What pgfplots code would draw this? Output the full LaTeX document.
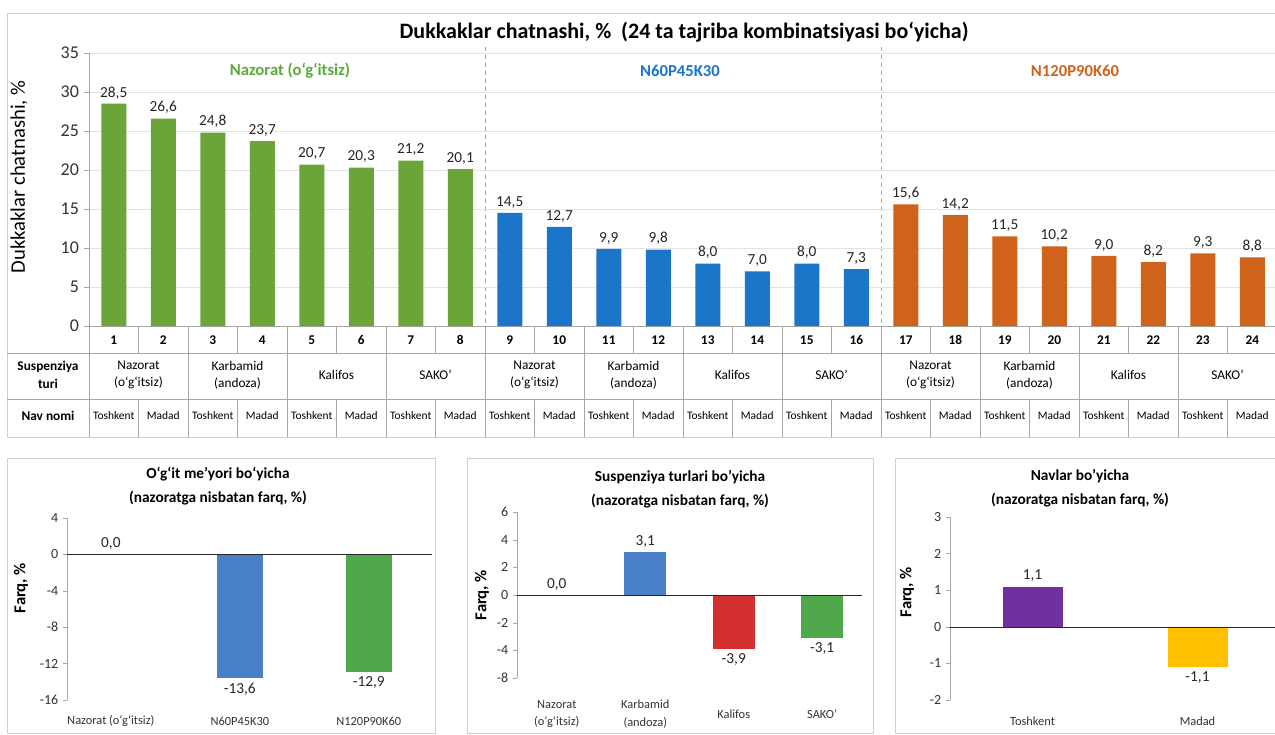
\documentclass[border=0pt]{standalone}
\usepackage{pgfplots}
\pgfplotsset{compat=1.18}
\usepackage{fontspec}
\setmainfont{Carlito}
\definecolor{tgreen}{HTML}{6BA53A}
\definecolor{tblue}{HTML}{1B75C8}
\definecolor{torange}{HTML}{D0631A}
\definecolor{lgreen}{HTML}{5BAA3C}
\definecolor{bblue}{HTML}{4A80C8}
\definecolor{bgreen}{HTML}{4FA84A}
\definecolor{bred}{HTML}{D42F2F}
\definecolor{bpurple}{HTML}{7030A0}
\definecolor{bamber}{HTML}{FFC000}
\definecolor{gridc}{HTML}{E3E3E3}
\definecolor{linec}{HTML}{A6A6A6}
\definecolor{framec}{HTML}{CFCFCF}
\pgfplotsset{/pgf/number format/assume math mode=true}
\newcommand{\fs}[1]{\fontsize{#1}{#1}\selectfont}
\pgfplotsset{
 vlabels/.style={nodes near coords={\pgfmathprintnumber[fixed,fixed zerofill,precision=1,use comma]{\pgfplotspointmeta}}},
 bottompanel/.style={
  axis x line*=bottom, axis y line*=left,
  axis line style={-, draw=linec},
  x axis line style={draw=none},
  xtick style={draw=none},
  ytick style={draw=linec},
  tick align=outside, major tick length=3pt,
  yticklabel style={font=\fs{10.5}, text=black!80},
  xticklabel style={font=\fontsize{9.3}{13}\selectfont, text=black!80, align=center, anchor=center},
  every node near coord/.append style={font=\fs{11.5}, text=black!85},
  vlabels, clip=false,
 },
}
\begin{document}
\begin{tikzpicture}
\useasboundingbox (0,0) rectangle (956.25pt,-551.25pt);
\fill[white] (0,0) rectangle (956.25pt,-551.25pt);
\begin{scope}[x=0.75pt,y=-0.75pt]
% top frame
\draw[framec] (7,13) rectangle (1290,437);
\node[font=\bfseries\fs{16.5}] at (684,32) {Dukkaklar chatnashi, \%\ \ (24 ta tajriba kombinatsiyasi bo‘yicha)};
\node[font=\fs{15.5}, rotate=90] at (19,177) {Dukkaklar chatnashi, \%};
\node[font=\bfseries\fs{12.5}, text=lgreen] at (290,71) {Nazorat (o‘g‘itsiz)};
\node[font=\bfseries\fs{12.5}, text=tblue] at (680,71) {N60P45K30};
\node[font=\bfseries\fs{12.5}, text=torange] at (1075,71) {N120P90K60};
\draw[linec, dashed] (485,47) -- (485,326);
\draw[linec, dashed] (881,47) -- (881,326);
% table
\draw[linec] (7,353) -- (1290,353);
\draw[linec] (7,399) -- (1290,399);
\foreach \k in {0,...,24} {
  \draw[linec] ({89+49.5*\k},326) -- ({89+49.5*\k},353);
  \draw[linec] ({89+49.5*\k},399) -- ({89+49.5*\k},437);
}
\foreach \k in {0,...,12} \draw[linec] ({89+99*\k},353) -- ({89+99*\k},399);
\foreach \k in {1,...,24} \node[font=\bfseries\fs{10}] at ({89+49.5*\k-24.75},340) {\k};
\foreach \g in {0,1,2} {
  \foreach \j/\t in {0/{Nazorat\\(o‘g‘itsiz)},1/{Karbamid\\(andoza)},2/{Kalifos},3/{SAKO’}} {
    \node[font=\fontsize{10}{13}\selectfont, align=center] at ({89+396*\g+99*\j+49.5},375) {\t};
  }
}
\foreach \k in {0,...,11} {
  \node[font=\fs{8.6}] at ({89+99*\k+24.75},416) {Toshkent};
  \node[font=\fs{8.6}] at ({89+99*\k+74.25},416) {Madad};
}
\node[font=\bfseries\fontsize{10}{13}\selectfont, align=center] at (48,375) {Suspenziya\\turi};
\node[font=\bfseries\fs{10}] at (48,416) {Nav nomi};
% bottom panels
\draw[framec] (7,458) rectangle (435,733);
\node[font=\bfseries\fontsize{11.5}{18}\selectfont, align=center] at (218,486) {O‘g‘it me’yori bo‘yicha\\(nazoratga nisbatan farq, \%)};
\node[font=\bfseries\fs{12.5}, rotate=90] at (21,588) {Farq, \%};
\draw[framec] (467,458) rectangle (873,733);
\node[font=\bfseries\fontsize{11.5}{18}\selectfont, align=center] at (680,489) {Suspenziya turlari bo’yicha\\(nazoratga nisbatan farq, \%)};
\node[font=\bfseries\fs{12.5}, rotate=90] at (482,595) {Farq, \%};
\draw[framec] (895,458) rectangle (1290,733);
\node[font=\bfseries\fontsize{11.5}{18}\selectfont, align=center] at (1080,488) {Navlar bo’yicha\\(nazoratga nisbatan farq, \%)};
\node[font=\bfseries\fs{12.5}, rotate=90] at (907,592) {Farq, \%};
\end{scope}

% top chart
\begin{axis}[
 at={(66.75pt,-244.5pt)}, anchor=south west,
 scale only axis, width=891pt, height=204.75pt,
 xmin=0.5, xmax=24.5, ymin=0, ymax=35,
 ybar, bar width=18.75pt,
 axis x line*=bottom, axis y line*=left,
 axis line style={-, draw=linec},
 xtick=\empty,
 ytick={0,5,...,35},
 tick align=outside, major tick length=4pt,
 ytick style={draw=linec},
 ymajorgrids, grid style={draw=gridc},
 yticklabel style={font=\fs{13.5}, text=black!80},
 every node near coord/.append style={font=\fs{11.5}, text=black!85},
 vlabels, clip=false,
]
\addplot[fill=tgreen, draw=none, bar shift=0pt] coordinates {(1,28.5) (2,26.6) (3,24.8) (4,23.7) (5,20.7) (6,20.3) (7,21.2) (8,20.1)};
\addplot[fill=tblue, draw=none, bar shift=0pt] coordinates {(9,14.5) (10,12.7) (11,9.9) (12,9.8) (13,8.0) (14,7.0) (15,8.0) (16,7.3)};
\addplot[fill=torange, draw=none, bar shift=0pt] coordinates {(17,15.6) (18,14.2) (19,11.5) (20,10.2) (21,9.0) (22,8.2) (23,9.3) (24,8.8)};
\end{axis}

% panel 1
\begin{axis}[
 at={(50.25pt,-525pt)}, anchor=south west, scale only axis,
 width=273.75pt, height=136.5pt,
 xmin=-0.34, xmax=2.49, ymin=-16, ymax=4,
 ytick={-16,-12,...,4},
 xtick={0,1,2}, xticklabels={Nazorat (o‘g‘itsiz), N60P45K30, N120P90K60},
 ybar, bar width=34.5pt,
 bottompanel,
 xticklabel style={yshift=-12.75pt},
]
\addplot[draw=none, fill=none, bar shift=0pt] coordinates {(0,0)};
\addplot[fill=bblue, draw=none, bar shift=0pt] coordinates {(1,-13.6)};
\addplot[fill=bgreen, draw=none, bar shift=0pt] coordinates {(2,-12.9)};
\draw[black!85] (axis cs:-0.34,0) -- (axis cs:2.49,0);
\end{axis}

% panel 2
\begin{axis}[
 at={(387.75pt,-508.5pt)}, anchor=south west, scale only axis,
 width=258.75pt, height=124.5pt,
 xmin=-0.45, xmax=3.45, ymin=-6, ymax=6,
 ytick={-6,-4,...,6}, yticklabels={-8,-4,-2,0,2,4,6},
 xtick={0,1,2,3}, xticklabels={{Nazorat\\(o‘g‘itsiz)},{Karbamid\\(andoza)},Kalifos,SAKO’},
 ybar, bar width=31.5pt,
 bottompanel,
 xticklabel style={yshift=-24pt},
]
\addplot[draw=none, fill=none, bar shift=0pt] coordinates {(0,0)};
\addplot[fill=bblue, draw=none, bar shift=0pt] coordinates {(1,3.1)};
\addplot[fill=bred, draw=none, bar shift=0pt] coordinates {(2,-3.9)};
\addplot[fill=bgreen, draw=none, bar shift=0pt] coordinates {(3,-3.1)};
\draw[black!85] (axis cs:-0.45,0) -- (axis cs:3.45,0);
\end{axis}

% panel 3
\begin{axis}[
 at={(712.5pt,-525pt)}, anchor=south west, scale only axis,
 width=247.5pt, height=137.25pt,
 xmin=-0.5, xmax=1.5, ymin=-2, ymax=3,
 ytick={-2,...,3},
 xtick={0,1}, xticklabels={Toshkent,Madad},
 ybar, bar width=45pt,
 bottompanel,
 xticklabel style={yshift=-12.75pt},
]
\addplot[fill=bpurple, draw=none, bar shift=0pt] coordinates {(0,1.1)};
\addplot[fill=bamber, draw=none, bar shift=0pt] coordinates {(1,-1.1)};
\draw[black!85] (axis cs:-0.5,0) -- (axis cs:1.5,0);
\end{axis}
\end{tikzpicture}
\end{document}
